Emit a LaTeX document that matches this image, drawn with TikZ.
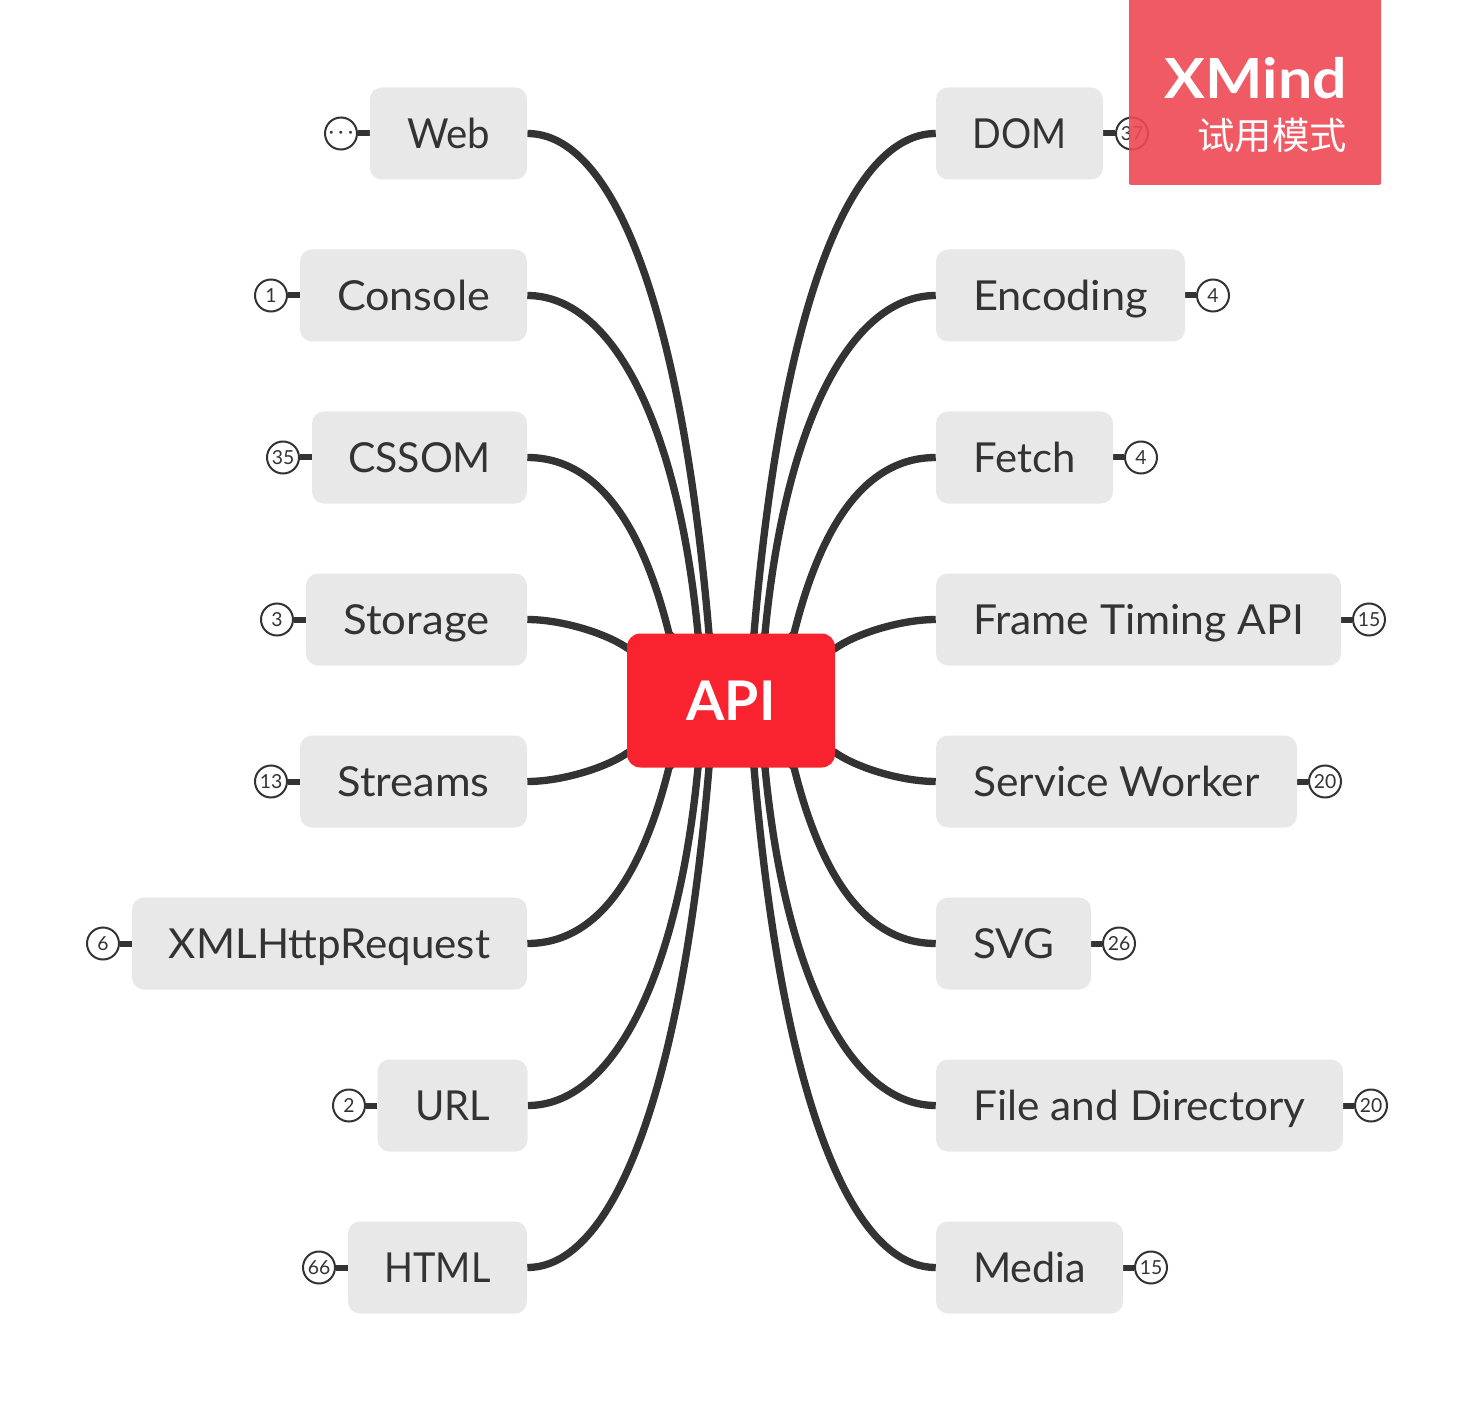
\documentclass[tikz,border=0pt]{standalone}
\usepackage{fontspec}
\usepackage{graphicx}
\setmainfont{Lato}
\newfontfamily\cjkf{Noto Sans CJK SC}
\usetikzlibrary{backgrounds}
\definecolor{ink}{HTML}{333333}
\definecolor{topicgray}{HTML}{E8E8E8}
\definecolor{apired}{HTML}{F9222F}
\definecolor{markred}{HTML}{EF4955}
\newcommand{\tw}[2]{\resizebox{#1\dimexpr 0.75pt\relax}{\height}{#2}}
\tikzset{
  x=0.75pt,y=-0.75pt,
  topic/.style={fill=topicgray,rounded corners=9pt,inner sep=0pt,minimum height=69pt,text=ink,text height=30pt,text depth=7.5pt,font=\fontsize{31}{36}\selectfont},
  badge/.style={circle,draw=ink,line width=1.5pt,fill=white,inner sep=0pt,minimum size=24pt,text=ink,text height=10.5pt,text depth=0pt,font=\fontsize{14.5}{16}\selectfont},
  branch/.style={draw=ink,line width=5.5pt},
  stub/.style={draw=ink,line width=4.5pt},
}
\begin{document}
\begin{tikzpicture}
\useasboundingbox (0,-0.5) rectangle (1475,1400.5);
\node[fill=apired,rounded corners=10pt,inner sep=0pt,minimum width=156pt,minimum height=100.5pt,text=white,text height=30pt,text depth=0pt,font=\fontsize{41}{48}\selectfont\bfseries] (api) at (731,700) {\tw{89}{API}};
% left topics
\node[topic,minimum width=118pt] (web) at (448.5,133) {\tw{83}{Web}};
\node[topic,minimum width=170.25pt] (console) at (413.5,295) {\tw{153}{Console}};
\node[topic,minimum width=161.25pt] (cssom) at (419.5,457) {\tw{143}{CSSOM}};
\node[topic,minimum width=165.75pt] (storage) at (416.5,619) {\tw{146}{Storage}};
\node[topic,minimum width=170.25pt] (streams) at (413.5,781) {\tw{152}{Streams}};
\node[topic,minimum width=296.25pt] (xhr) at (329.5,943) {\tw{321}{XMLHttpRequest}};
\node[topic,minimum width=112.5pt] (url) at (452.5,1105) {\tw{75}{URL}};
\node[topic,minimum width=134.25pt] (html) at (437.5,1267) {\tw{106}{HTML}};
% right topics
\node[topic,minimum width=125.25pt] (dom) at (1019.5,133) {\tw{94}{DOM}};
\node[topic,minimum width=186.75pt] (encoding) at (1060.5,295) {\tw{175}{Encoding}};
\node[topic,minimum width=132.75pt] (fetch) at (1024.5,457) {\tw{102}{Fetch}};
\node[topic,minimum width=303.75pt] (frame) at (1138.5,619) {\tw{331}{Frame Timing API}};
\node[topic,minimum width=270.75pt] (service) at (1116.5,781) {\tw{286}{Service Worker}};
\node[topic,minimum width=116.25pt] (svg) at (1013.5,943) {\tw{81}{SVG}};
\node[topic,minimum width=305.25pt] (file) at (1139.5,1105) {\tw{332}{File and Directory}};
\node[topic,minimum width=140.25pt] (media) at (1029.5,1267) {\tw{113}{Media}};
% badges
\node[badge] (bweb) at (341,133) {\raisebox{1.5pt}{·\kern3.5pt·\kern3.5pt·}};
\node[badge] (bconsole) at (271,295) {1};
\node[badge] (bcssom) at (283,457) {35};
\node[badge] (bstorage) at (277,619) {3};
\node[badge] (bstreams) at (271,781) {13};
\node[badge] (bxhr) at (103,943) {6};
\node[badge] (burl) at (349,1105) {2};
\node[badge] (bhtml) at (319,1267) {66};
\node[badge] (bdom) at (1132,133) {37};
\node[badge] (bencoding) at (1213,295) {4};
\node[badge] (bfetch) at (1141,457) {4};
\node[badge] (bframe) at (1369,619) {15};
\node[badge] (bservice) at (1325,781) {20};
\node[badge] (bsvg) at (1119,943) {26};
\node[badge] (bfile) at (1371,1105) {20};
\node[badge] (bmedia) at (1151,1267) {15};
% points where the branches enter the central topic
\coordinate (eweb) at (709,633);
\coordinate (econsole) at (698,633);
\coordinate (ecssom) at (669,633);
\coordinate (estorage) at (628,648);
\coordinate (estreams) at (628,752);
\coordinate (exhr) at (669,767);
\coordinate (eurl) at (698,767);
\coordinate (ehtml) at (709,767);
\coordinate (edom) at (754,633);
\coordinate (eencoding) at (765,633);
\coordinate (efetch) at (794,633);
\coordinate (eframe) at (835,648);
\coordinate (eservice) at (835,752);
\coordinate (esvg) at (794,767);
\coordinate (efile) at (765,767);
\coordinate (emedia) at (754,767);
\begin{scope}[on background layer]
\fill[white] (0,-0.5) rectangle (1475,1400.5);
% branches left
\draw[branch] (web.east) .. controls +(85,0) and +(-28,-330) .. (eweb) -- (api.center);
\draw[branch] (console.east) .. controls +(85,0) and +(-20,-210) .. (econsole) -- (api.center);
\draw[branch] (cssom.east) .. controls +(72,0) and +(-26,-105) .. (ecssom) -- (api.center);
\draw[branch] (storage.east) .. controls +(33,0) and +(-23,-16) .. (estorage) -- (api.center);
\draw[branch] (streams.east) .. controls +(33,0) and +(-23,16) .. (estreams) -- (api.center);
\draw[branch] (xhr.east) .. controls +(72,0) and +(-26,105) .. (exhr) -- (api.center);
\draw[branch] (url.east) .. controls +(85,0) and +(-20,210) .. (eurl) -- (api.center);
\draw[branch] (html.east) .. controls +(85,0) and +(-28,330) .. (ehtml) -- (api.center);
% branches right
\draw[branch] (dom.west) .. controls +(-85,0) and +(28,-330) .. (edom) -- (api.center);
\draw[branch] (encoding.west) .. controls +(-85,0) and +(20,-210) .. (eencoding) -- (api.center);
\draw[branch] (fetch.west) .. controls +(-72,0) and +(26,-105) .. (efetch) -- (api.center);
\draw[branch] (frame.west) .. controls +(-33,0) and +(23,-16) .. (eframe) -- (api.center);
\draw[branch] (service.west) .. controls +(-33,0) and +(23,16) .. (eservice) -- (api.center);
\draw[branch] (svg.west) .. controls +(-72,0) and +(26,105) .. (esvg) -- (api.center);
\draw[branch] (file.west) .. controls +(-85,0) and +(20,210) .. (efile) -- (api.center);
\draw[branch] (media.west) .. controls +(-85,0) and +(28,330) .. (emedia) -- (api.center);
% stubs
\draw[stub] (web.west) -- (bweb);
\draw[stub] (console.west) -- (bconsole);
\draw[stub] (cssom.west) -- (bcssom);
\draw[stub] (storage.west) -- (bstorage);
\draw[stub] (streams.west) -- (bstreams);
\draw[stub] (xhr.west) -- (bxhr);
\draw[stub] (url.west) -- (burl);
\draw[stub] (html.west) -- (bhtml);
\draw[stub] (dom.east) -- (bdom);
\draw[stub] (encoding.east) -- (bencoding);
\draw[stub] (fetch.east) -- (bfetch);
\draw[stub] (frame.east) -- (bframe);
\draw[stub] (service.east) -- (bservice);
\draw[stub] (svg.east) -- (bsvg);
\draw[stub] (file.east) -- (bfile);
\draw[stub] (media.east) -- (bmedia);
\end{scope}
% trial watermark
\fill[markred,opacity=0.9,rounded corners=1.5pt] (1129,-5) rectangle (1381,184.5);
\node[text=white,font=\fontsize{41.5}{50}\selectfont\bfseries,anchor=base east,inner sep=0pt] (wm) at (1347,98) {\tw{182}{XMind}};
\node[text=white,font=\cjkf\fontsize{28}{30}\selectfont,anchor=base east,inner sep=0pt] (wmcn) at (1347,149) {试用模式};
\end{tikzpicture}
\end{document}
